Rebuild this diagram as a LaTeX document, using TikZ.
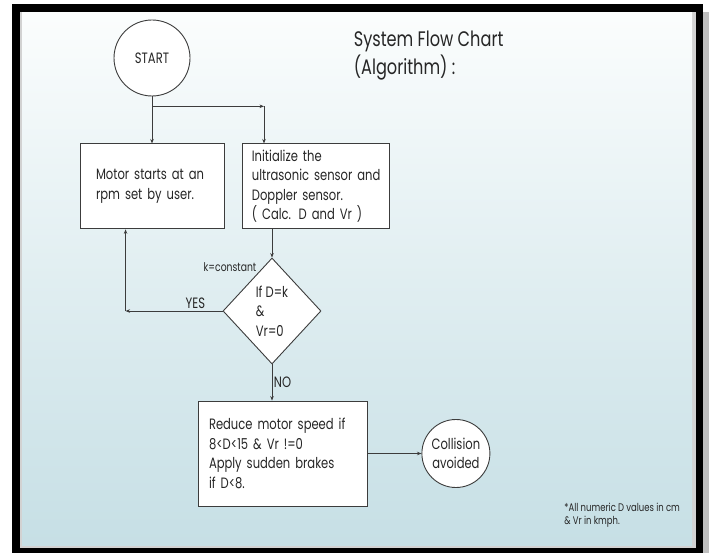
\documentclass[tikz,border=0pt]{standalone}
\usepackage{fontspec}
\setmainfont{Poppins}[FakeStretch=0.77]
\usetikzlibrary{
  shapes.geometric, % Shape "diamond"
  arrows.meta,
  positioning,      % Function "of" (e.g. [right=of x])
  calc,             % Calculations $...$
}
\definecolor{linegray}{HTML}{3C3C3C}
\definecolor{txtgray}{HTML}{262626}
\definecolor{bgtop}{HTML}{FBFDFD}
\definecolor{bgbottom}{HTML}{C6DFE5}
\definecolor{rimgray}{HTML}{D2D2D2}
\def\mytext{\fontsize{15}{19.5}\selectfont}
\tikzset{
  >={Stealth[length=4.5pt,width=3.5pt]},
  flow/.style={
    x=1pt,
    y=-1pt,
    font=\mytext,
    text=txtgray,
    draw=linegray,
    line width=0.9pt
  },
  terminal/.style={
    circle,
    draw=linegray,
    fill=white,
    align=center,
    inner sep=0pt,
    minimum size=76pt
  },
  stepbox/.style={
    rectangle,
    draw=linegray,
    fill=white,
    align=left,
    minimum height=85pt
  },
  decision/.style={
    diamond,
    draw=linegray,
    fill=white,
    align=left,
    inner sep=0pt,
    minimum width=98pt,
    minimum height=106pt
  },
  heading/.style={
    align=left,
    font=\fontsize{21}{28}\selectfont
  },
  remark/.style={
    align=left,
    inner sep=0pt,
    font=\fontsize{11}{13}\selectfont
  }
}

\begin{document}
\begin{tikzpicture}[flow]
\useasboundingbox (0,0) rectangle (709,553);
% frame and slide background
\fill[gray!50] (18,12) rectangle (709,553);
\fill[black] (12,4) rectangle (703,553);
\fill[rimgray] (20,12) rectangle (696,548);
\shade[top color=bgtop,bottom color=bgbottom] (22,13) rectangle (692,545);

\node[heading,anchor=north west] (title) at (350,27) {System Flow Chart\\(Algorithm) :};

\node[terminal] (start) at (152,58) {START};
\node[stepbox,below=47pt of start,text width=112pt,inner xsep=16pt] (motor)
  {Motor starts at an\\rpm set by user.};
\node[stepbox,right=18pt of motor,text width=129pt,inner xsep=9pt] (init)
  {Initialize the\\ultrasonic sensor and\\Doppler sensor.\\( Calc. D and Vr )};
\node[decision] (dia) at (272,311) {If D=k\\\&\\Vr=0};
\node[stepbox,text width=147pt,inner xsep=11pt,minimum height=105pt] (reduce) at (282.5,453.5)
  {Reduce motor speed if\\8<D<15 \& Vr !=0\\Apply sudden brakes\\if D<8.};
\node[terminal,right=54pt of reduce,minimum size=68pt] (done) {Collision\\avoided};

\node[font=\fontsize{12}{14}\selectfont] (kconst) at (230,267) {k=constant};
\node[remark,anchor=north west] (units) at (564,503) {*All numeric D values in cm\\\& Vr in kmph.};

\coordinate (split) at ($(start.south)!0.21!(motor.north)$);
\coordinate (corner) at ($(split)+(112,0)$);
\coordinate (back) at ($(dia.west)+(-97,0)$);

\draw[->] (start) -- (motor);
\draw[->] (split) -- (corner);
\draw[->] (corner) -- (corner |- init.north);
\draw[->] (dia.north |- init.south) -- (dia.north);
\draw[->] (dia.west) -- node[above,pos=0.28,inner sep=2pt]{YES} (back);
\draw[->] (back) -- (back |- motor.south);
\draw[->] (dia.south) -- node[right,inner sep=1.5pt]{NO} (dia.south |- reduce.north);
\draw[->] (reduce) -- (done);
\end{tikzpicture}
\end{document}
